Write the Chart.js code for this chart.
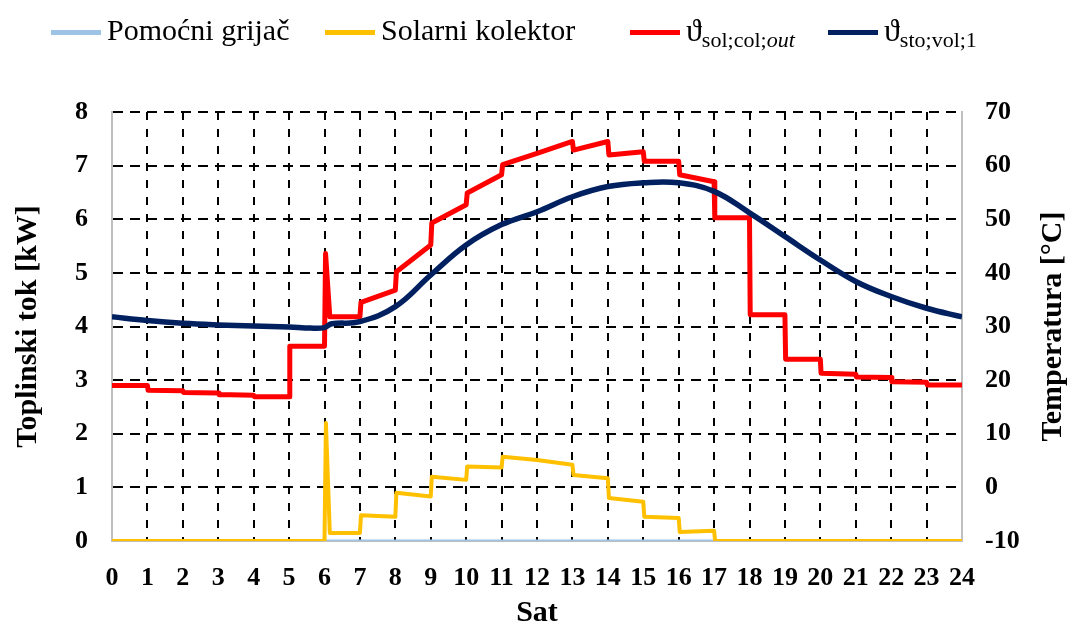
<!DOCTYPE html>
<html>
<head>
<meta charset="utf-8">
<title>Toplinski tok i temperatura</title>
<script src="https://cdn.jsdelivr.net/npm/chart.js@4"></script>
<style>
    body { margin: 0; background: #fff; }
    #wrap { position: relative; width: 1072px; height: 631px; }
    #legend { position: absolute; left: 0; top: 0; width: 1072px; height: 70px;
              font-family: 'Liberation Serif', 'DejaVu Serif', serif; font-size: 30px; color: #000; }
    #legend .sw { position: absolute; top: 30px; height: 5px; width: 50px; }
    #legend .lbl { position: absolute; top: 12px; white-space: nowrap; line-height: 36px; }
    #legend .th { font-size: 32px; }
    #legend sub { font-size: 22px; vertical-align: -6px; }
</style>
</head>
<body>
<div id="wrap">
    <canvas id="heatChart" width="1072" height="631"></canvas>
    <div id="legend">
        <span class="sw" style="left:51px;background:#9dc3e6"></span>
        <span class="lbl" style="left:107px">Pomoćni grijač</span>
        <span class="sw" style="left:325px;background:#ffc000"></span>
        <span class="lbl" style="left:381px">Solarni kolektor</span>
        <span class="sw" style="left:630px;background:#ff0000"></span>
        <span class="lbl" style="left:686px"><span class="th">ϑ</span><sub>sol;col;<i>out</i></sub></span>
        <span class="sw" style="left:828px;background:#002060"></span>
        <span class="lbl" style="left:884px"><span class="th">ϑ</span><sub>sto;vol;1</sub></span>
    </div>
</div>
<script>
// sat (h) -> toplinski tok (kW)
const auxHours = [0, 24];
const auxKW = [0, 0];

const solarHours = [0, 6, 6.04, 6.15, 7, 7.03, 8, 8.03, 9, 9.03, 10, 10.03, 11, 11.03, 12, 13, 13.03, 14, 14.03, 15, 15.03, 16, 16.03, 17, 17.03, 24];
const solarKW = [0, 0, 2.2, 0.15, 0.15, 0.48, 0.45, 0.9, 0.83, 1.2, 1.14, 1.39, 1.37, 1.57, 1.51, 1.42, 1.23, 1.17, 0.8, 0.73, 0.45, 0.43, 0.17, 0.19, 0, 0];

// sat (h) -> temperatura (°C)
const solOutHours = [0, 1, 1.02, 2, 2.02, 3, 3.02, 4, 4.02, 5, 5.02, 6, 6.03, 6.15, 7, 7.03, 8, 8.03, 9, 9.03, 10, 10.03, 11, 11.03, 12, 13, 13.03, 14, 14.03, 15, 15.03, 16, 16.03, 17, 17.02, 18, 18.02, 19, 19.02, 20, 20.02, 21, 21.02, 22, 22.02, 23, 23.02, 24];
const solOutTemp = [19, 19, 18.1, 18, 17.7, 17.6, 17.3, 17.2, 16.9, 16.9, 26.3, 26.3, 43.6, 31.8, 31.8, 34.5, 36.8, 40.2, 45.2, 49.3, 52.7, 54.9, 58.3, 60.2, 62.3, 64.5, 62.9, 64.5, 62.0, 62.6, 60.8, 60.8, 58.3, 57.0, 50.3, 50.3, 32.2, 32.2, 23.9, 23.9, 21.3, 21.1, 20.6, 20.5, 19.7, 19.6, 19.1, 19.1];

const stoHours = [0, 1, 2, 3, 4, 5, 5.6, 6, 6.2, 7, 8, 9, 10, 11, 12, 13, 14, 15, 16, 17, 18, 19, 20, 21, 22, 23, 24];
const stoTemp = [31.8, 31.1, 30.6, 30.3, 30.1, 29.9, 29.7, 29.8, 30.5, 30.9, 33.7, 39.6, 45.2, 49.0, 51.4, 54.2, 56.1, 56.8, 56.8, 55.2, 51.2, 46.8, 42.4, 38.4, 35.6, 33.4, 31.8];

const hourTicks = [0, 24];
const kwRange = [0, 8];
const tempRange = [-10, 70];

function toPoints(xs, ys) {
    return xs.map((x, i) => ({ x: x, y: ys[i] }));
}

const tickFont = { family: 'Liberation Serif', size: 26, weight: 'bold' };
const titleFont = { family: 'Liberation Serif', size: 30, weight: 'bold' };

const rightTitle = {
    id: 'rightTitle',
    afterDraw(chart) {
        const ctx = chart.ctx;
        const area = chart.chartArea;
        ctx.save();
        ctx.translate(1053, (area.top + area.bottom) / 2);
        ctx.rotate(-Math.PI / 2);
        ctx.font = 'bold 30px "Liberation Serif"';
        ctx.fillStyle = '#000';
        ctx.textAlign = 'center';
        ctx.textBaseline = 'middle';
        ctx.fillText('Temperatura [°C]', 0, 0);
        ctx.restore();
    }
};

function hideEdge(edges, color) {
    return (c) => (c.tick && edges.includes(c.tick.value)) ? 'rgba(0,0,0,0)' : color;
}

new Chart(document.getElementById('heatChart'), {
    type: 'line',
    data: {
        datasets: [
            {
                label: 'Pomoćni grijač',
                data: toPoints(auxHours, auxKW),
                borderColor: '#9dc3e6',
                borderWidth: 3,
                yAxisID: 'y',
                order: 4
            },
            {
                label: 'Solarni kolektor',
                data: toPoints(solarHours, solarKW),
                borderColor: '#ffc000',
                borderWidth: 4,
                yAxisID: 'y',
                order: 3
            },
            {
                label: 'ϑsol;col;out',
                data: toPoints(solOutHours, solOutTemp),
                borderColor: '#ff0000',
                borderWidth: 5,
                yAxisID: 'y2',
                order: 2
            },
            {
                label: 'ϑsto;vol;1',
                data: toPoints(stoHours, stoTemp),
                borderColor: '#002060',
                borderWidth: 5.5,
                tension: 0.4,
                yAxisID: 'y2',
                order: 1
            }
        ]
    },
    options: {
        responsive: false,
        animation: false,
        layout: { padding: { top: 112, left: 0, right: 0, bottom: 0 } },
        elements: { point: { radius: 0 }, line: { tension: 0, borderJoinStyle: 'round' } },
        plugins: { legend: { display: false }, tooltip: { enabled: false } },
        scales: {
            x: {
                type: 'linear',
                min: hourTicks[0],
                max: hourTicks[1],
                afterFit: (s) => { s.height = 90; },
                ticks: { stepSize: 1, color: '#000', font: tickFont, padding: 22, maxRotation: 0, autoSkip: false },
                grid: { color: hideEdge(hourTicks, '#000'), lineWidth: 2, drawTicks: false },
                border: { display: true, color: '#bfbfbf', width: 2, dash: [8, 9] },
                title: { display: true, text: 'Sat', color: '#000', font: titleFont, padding: { top: 0, bottom: 0 } }
            },
            y: {
                position: 'left',
                min: kwRange[0],
                max: kwRange[1],
                afterFit: (s) => { s.width = 112; },
                ticks: { stepSize: 1, color: '#000', font: tickFont, padding: 24 },
                grid: { color: hideEdge([0], '#000'), lineWidth: 2, drawTicks: false },
                border: { display: true, color: '#bfbfbf', width: 2, dash: [10, 7] },
                title: { display: true, text: 'Toplinski tok [kW]', color: '#000', font: titleFont, padding: { top: 10, bottom: 0 } }
            },
            y2: {
                position: 'right',
                min: tempRange[0],
                max: tempRange[1],
                afterFit: (s) => { s.width = 110; },
                ticks: { stepSize: 10, color: '#000', font: tickFont, padding: 23 },
                grid: { display: false, drawTicks: false },
                border: { display: true, color: '#bfbfbf', width: 2 }
            }
        }
    },
    plugins: [rightTitle]
});
</script>
</body>
</html>
